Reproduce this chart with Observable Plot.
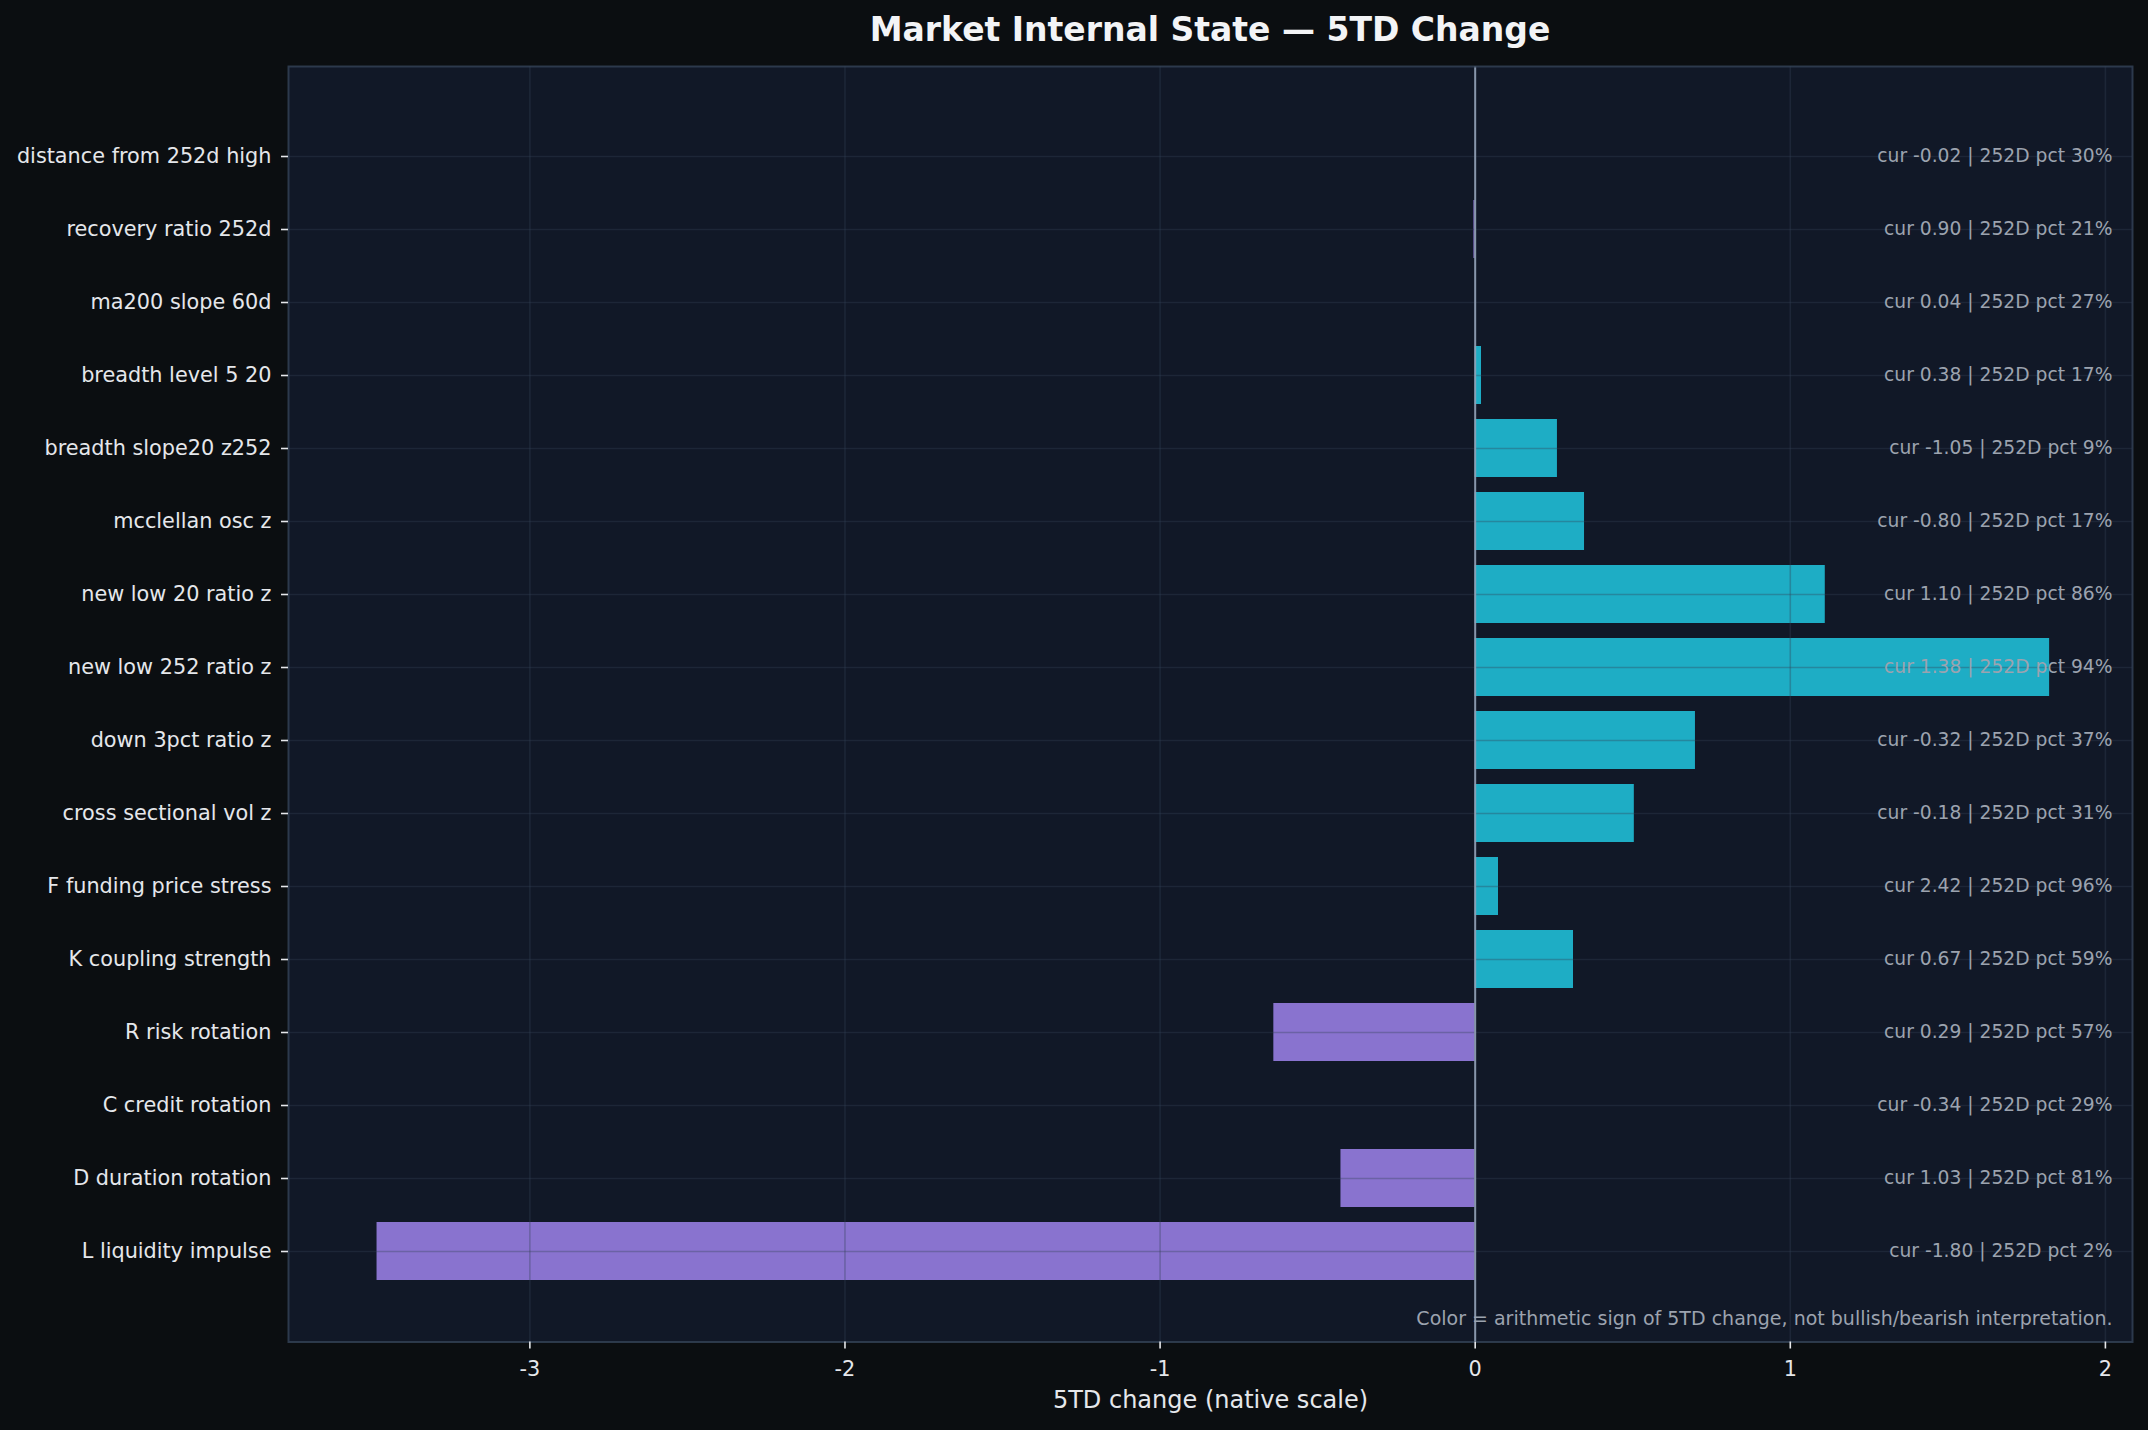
<!DOCTYPE html>
<html>
<head>
<meta charset="utf-8">
<script src="https://cdn.jsdelivr.net/npm/d3@7"></script>
<script src="https://cdn.jsdelivr.net/npm/@observablehq/plot@0.6"></script>
<style>
  html, body { margin: 0; padding: 0; background: #0b0e11; }
  body { width: 2148px; height: 1430px; overflow: hidden; font-family: "DejaVu Sans", sans-serif; }
  #title { height: 56px; margin-left: 288px; width: 1844px; text-align: center; color: #f3f4f6;
           font-weight: bold; font-size: 33px; line-height: 60px; }
  #chart svg { display: block; }
</style>
</head>
<body>
<div id="title">Market Internal State — 5TD Change</div>
<div id="chart"></div>
<script>
const names = [
  "distance from 252d high", "recovery ratio 252d", "ma200 slope 60d", "breadth level 5 20",
  "breadth slope20 z252", "mcclellan osc z", "new low 20 ratio z", "new low 252 ratio z",
  "down 3pct ratio z", "cross sectional vol z", "F funding price stress", "K coupling strength",
  "R risk rotation", "C credit rotation", "D duration rotation", "L liquidity impulse"
];
const change5 = [0.0, -0.004, 0.0, 0.02, 0.261, 0.347, 1.111, 1.823, 0.699, 0.505, 0.074, 0.312, -0.639, 0.0, -0.426, -3.485];
const cur = [-0.02, 0.90, 0.04, 0.38, -1.05, -0.80, 1.10, 1.38, -0.32, -0.18, 2.42, 0.67, 0.29, -0.34, 1.03, -1.80];
const pct = [30, 21, 27, 17, 9, 17, 86, 94, 37, 31, 96, 59, 57, 29, 81, 2];
const xTicks = [-3, -2, -1, 0, 1, 2];
const xLabel = "5TD change (native scale)";
const footnote = "Color = arithmetic sign of 5TD change, not bullish/bearish interpretation.";

const rows = names.map((n, i) => ({
  name: n, change: change5[i],
  note: `cur ${cur[i].toFixed(2)} | 252D pct ${pct[i]}%`
}));

const posColor = "#22d3ee", negColor = "#a78bfa";

const chart = Plot.plot({
  width: 2148,
  height: 1374,
  marginTop: 10,
  marginBottom: 88.5,
  marginLeft: 288,
  marginRight: 16,
  style: { background: "transparent", fontFamily: "DejaVu Sans, sans-serif" },
  x: { domain: [-3.766, 2.086] },
  y: { type: "band", domain: names, paddingInner: 0.2, paddingOuter: 0.775 },
  marks: [
    Plot.frame({ fill: "#111827" }),
    Plot.barX(rows, {
      y: "name", x: "change",
      fill: d => d.change >= 0 ? posColor : negColor,
      fillOpacity: 0.8
    }),
    Plot.gridX({ ticks: xTicks, stroke: "#334155", strokeOpacity: 0.35, strokeWidth: 1.6 }),
    Plot.gridY({ stroke: "#334155", strokeOpacity: 0.35, strokeWidth: 1.6 }),
    Plot.ruleX([0], { stroke: "#94a3b8", strokeOpacity: 0.9, strokeWidth: 2 }),
    Plot.text(rows, {
      y: "name", text: "note", frameAnchor: "right", dx: -20, textAnchor: "end",
      fill: "#9ca3af", fontSize: 18.7
    }),
    Plot.text([footnote], {
      text: d => d, frameAnchor: "bottom-right", dx: -20, dy: -17, textAnchor: "end",
      lineAnchor: "bottom", fill: "#9ca3af", fontSize: 19
    }),
    Plot.frame({ stroke: "#334155", strokeOpacity: 0.85, strokeWidth: 2 }),
    Plot.axisX({
      ticks: xTicks, tickFormat: d => String(d), tickSize: 7, tickPadding: 12,
      fontSize: 20.8, fill: "#e5e7eb", stroke: "#e5e7eb", strokeWidth: 1.6, label: null
    }),
    Plot.axisY({
      tickSize: 7, tickPadding: 10, fontSize: 20.8, fill: "#e5e7eb", stroke: "#e5e7eb",
      strokeWidth: 1.6, label: null
    }),
    Plot.text([xLabel], {
      text: d => d, frameAnchor: "bottom", dy: 58.5, lineAnchor: "middle",
      fill: "#e5e7eb", fontSize: 24
    })
  ]
});
document.getElementById("chart").appendChild(chart);
</script>
</body>
</html>
